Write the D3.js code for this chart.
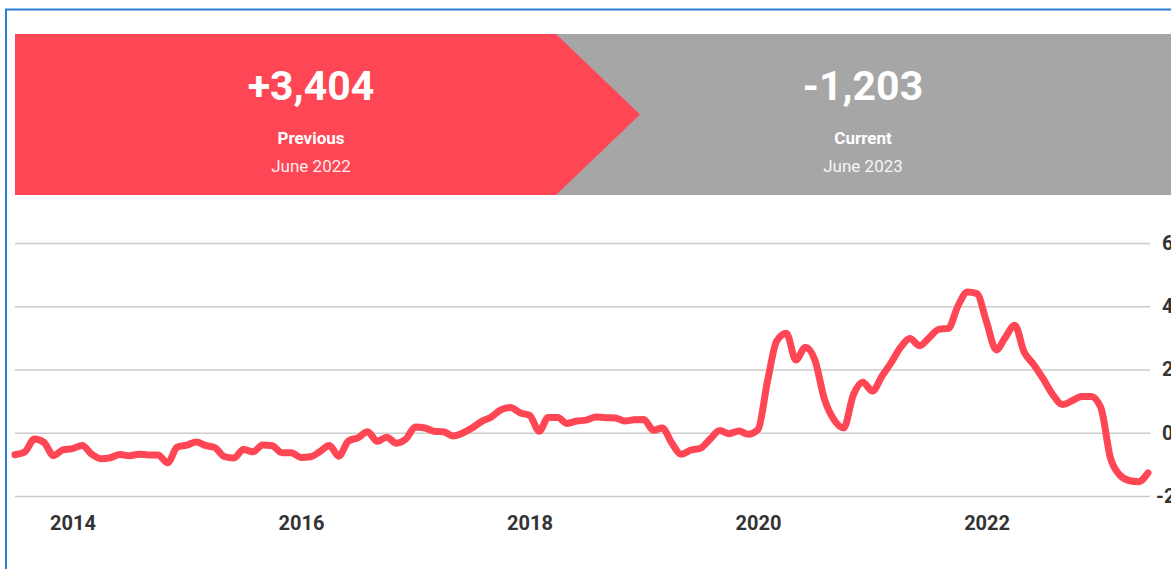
<!DOCTYPE html>
<html>
<head>
<meta charset="utf-8">
<script src="https://cdn.jsdelivr.net/npm/d3@7"></script>
<style>
  html, body { margin: 0; padding: 0; background: #fff; overflow: hidden; }
  svg { display: block; font-family: Roboto, "Noto Sans", sans-serif; }
</style>
</head>
<body>
<svg width="1171" height="569"></svg>
<script>
var w = 1171;
var h = 569;

// monthly values, July 2013 .. June 2023
var startMonth = new Date(2013, 6, 1);
var values = [
  -695, -610, -200, -300, -720, -540, -500, -400, -660, -820, -790, -690,
  -725, -680, -700, -700, -950, -460, -390, -290, -400, -470, -750, -800,
  -530, -600, -385, -410, -630, -630, -780, -760, -600, -400, -740, -260,
  -160, 30, -270, -140, -330, -200, 180, 150, 50, 30, -100, -10,
  150, 360, 500, 720, 800, 630, 550, 50, 480, 480, 295, 370,
  400, 500, 475, 470, 370, 410, 420, 80, 150, -330, -680, -545,
  -490, -200, 70, -30, 55, -50, 100, 1650, 2900, 3150, 2300, 2700,
  2300, 1050, 400, 150, 1200, 1600, 1320, 1800, 2200, 2700, 2980, 2750,
  3000, 3270, 3300, 4000, 4450, 4400, 3500, 2620, 3000, 3400, 2550, 2150,
  1700, 1200, 890, 1010, 1150, 1150, 800, -800, -1320, -1510, -1550, -1270
];
var yTicks = [-2000, 0, 2000, 4000, 6000];

var cards = [
  { value: "+3,404", label: "Previous", period: "June 2022" },
  { value: "-1,203", label: "Current", period: "June 2023" }
];
var cardColors = ["#FF4654", "#A6A6A6"];

var data = values.map((v, i) => ({ date: d3.timeMonth.offset(startMonth, i), value: v }));

var svg = d3.select("svg").attr("width", w).attr("height", h);

// outer frame
svg.append("path")
  .attr("d", "M6,569 L6,9.5 L1171,9.5")
  .attr("fill", "none")
  .attr("stroke", "#2A7FD4")
  .attr("stroke-width", 2);

// banner
var bannerTop = 34, bannerBottom = 195, bannerMid = (bannerTop + bannerBottom) / 2;
svg.append("rect")
  .attr("x", 540).attr("y", bannerTop)
  .attr("width", w - 540).attr("height", bannerBottom - bannerTop)
  .style("fill", cardColors[1]);
svg.append("polygon")
  .attr("points", [[15, bannerTop], [556, bannerTop], [640, bannerMid], [556, bannerBottom], [15, bannerBottom]].join(" "))
  .style("fill", cardColors[0]);

var cardX = [311, 863];
var card = svg.selectAll("g.card")
  .data(cards)
  .enter()
  .append("g")
  .attr("class", "card")
  .attr("transform", (d, i) => "translate(" + cardX[i] + ",0)")
  .attr("text-anchor", "middle")
  .style("fill", "#fff");

card.append("text")
  .attr("y", 100)
  .attr("font-size", 41)
  .attr("font-weight", "bold")
  .text((d) => d.value);
card.append("text")
  .attr("y", 144)
  .attr("font-size", 17)
  .attr("font-weight", "bold")
  .text((d) => d.label);
card.append("text")
  .attr("y", 172)
  .attr("font-size", 17)
  .style("fill-opacity", 0.92)
  .text((d) => d.period);

// scales
var x = d3.scaleTime()
  .domain([startMonth, data[data.length - 1].date])
  .range([15, 1148]);
var y = d3.scaleLinear()
  .domain([-2000, 6000])
  .range([496, 243]);

// y axis + gridlines
var yAxis = svg.append("g")
  .attr("transform", "translate(1150,0)")
  .call(d3.axisRight(y)
    .tickValues(yTicks)
    .tickSize(-(1150 - 15))
    .tickFormat((d) => d3.format(",")(d).replace("\u2212", "-")));
yAxis.select(".domain").remove();
yAxis.selectAll(".tick line")
  .attr("stroke", "#CCCCCC")
  .attr("stroke-width", 1.5);
yAxis.selectAll(".tick text")
  .attr("x", (d) => (d < 0 ? 6 : 12))
  .attr("text-anchor", "start")
  .attr("font-size", 20)
  .attr("font-weight", "bold")
  .attr("font-family", "Roboto")
  .style("fill", "#333");

// x axis
var xAxis = svg.append("g")
  .attr("transform", "translate(0,496)")
  .call(d3.axisBottom(x)
    .ticks(d3.timeYear.every(2))
    .tickSize(0)
    .tickFormat(d3.timeFormat("%Y")));
xAxis.select(".domain").remove();
xAxis.selectAll(".tick text")
  .attr("y", 34)
  .attr("dy", 0)
  .attr("font-size", 20)
  .attr("font-weight", "bold")
  .attr("font-family", "Roboto")
  .style("fill", "#333");

// line
var line = d3.line()
  .x((d) => x(d.date))
  .y((d) => y(d.value))
  .curve(d3.curveMonotoneX);

svg.append("path")
  .datum(data)
  .attr("d", line)
  .attr("fill", "none")
  .attr("stroke", "#FF4654")
  .attr("stroke-width", 7)
  .attr("stroke-linejoin", "round")
  .attr("stroke-linecap", "round");
</script>
</body>
</html>
